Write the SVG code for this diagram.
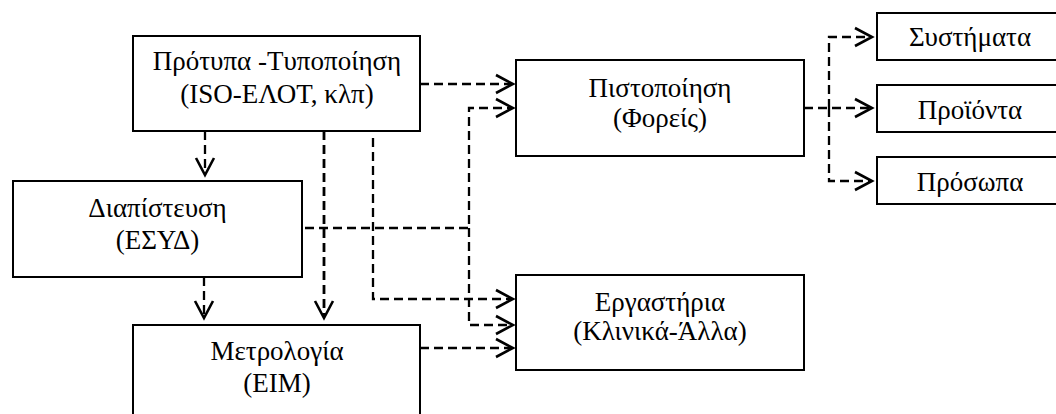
<svg xmlns="http://www.w3.org/2000/svg" width="1056" height="414" viewBox="0 0 1056 414">
<style>
.box{fill:#fff;stroke:#000;stroke-width:2}
.t{font-family:"Liberation Serif","Times New Roman",serif;font-size:27px;fill:#000;text-anchor:middle}
.c{fill:none;stroke:#000;stroke-width:2.3;stroke-dasharray:9 5}
.ah{fill:none;stroke:#000;stroke-width:2.6;stroke-linejoin:miter}
</style>
<rect width="1056" height="414" fill="#fff"/>
<g id="connectors">
<path class="c" d="M205 131 V174"/>
<path class="c" d="M204 277 V317"/>
<path class="c" d="M324 131 V317" style="stroke-width:2.8"/>
<path class="c" d="M373 138 V299 H512"/>
<path class="c" d="M420 84 H512"/>
<path class="c" d="M305 228 H469 V108 H512"/>
<path class="c" d="M469 228 V325 H512"/>
<path class="c" d="M420 348 H512"/>
<path class="c" d="M804 108 H871"/>
<path class="c" d="M829 108 V37 H871"/>
<path class="c" d="M829 108 V181 H871"/>
<path class="ah" d="M196 158 L205 175 L214 158"/>
<path class="ah" d="M195 301 L204 318 L213 301"/>
<path class="ah" d="M315 301 L324 318 L333 301"/>
<path class="ah" d="M496 75 L513 84 L496 93"/>
<path class="ah" d="M496 99 L513 108 L496 117"/>
<path class="ah" d="M496 290 L513 299 L496 308"/>
<path class="ah" d="M496 316 L513 325 L496 334"/>
<path class="ah" d="M496 339 L513 348 L496 357"/>
<path class="ah" d="M855 28 L872 37 L855 46"/>
<path class="ah" d="M855 99 L872 108 L855 117"/>
<path class="ah" d="M855 172 L872 181 L855 190"/>
</g>
<g id="protypa">
<rect class="box" x="133" y="36" width="287" height="95"/>
<text class="t" x="277" y="70">Πρότυπα -Τυποποίηση</text>
<text class="t" x="277" y="103">(ISO-ΕΛΟΤ, κλπ)</text>
</g>
<g id="diapisteusi">
<rect class="box" x="13" y="181" width="289" height="96"/>
<text class="t" x="157.5" y="217">Διαπίστευση</text>
<text class="t" x="157.5" y="249">(ΕΣΥΔ)</text>
</g>
<g id="metrologia">
<rect class="box" x="133" y="325" width="287" height="100"/>
<text class="t" x="277" y="360">Μετρολογία</text>
<text class="t" x="277" y="392">(ΕΙΜ)</text>
</g>
<g id="pistopoiisi">
<rect class="box" x="516" y="60" width="288" height="96"/>
<text class="t" x="660" y="97">Πιστοποίηση</text>
<text class="t" x="660" y="127">(Φορείς)</text>
</g>
<g id="ergastiria">
<rect class="box" x="516" y="275" width="288" height="95"/>
<text class="t" x="660" y="311">Εργαστήρια</text>
<text class="t" x="660" y="340">(Κλινικά-Άλλα)</text>
</g>
<g id="systimata">
<rect class="box" x="877" y="13" width="190" height="47"/>
<text class="t" x="970" y="46">Συστήματα</text>
</g>
<g id="proionta">
<rect class="box" x="877" y="85" width="190" height="47"/>
<text class="t" x="970" y="119">Προϊόντα</text>
</g>
<g id="prosopa">
<rect class="box" x="877" y="157" width="190" height="47"/>
<text class="t" x="970" y="191">Πρόσωπα</text>
</g>
</svg>
